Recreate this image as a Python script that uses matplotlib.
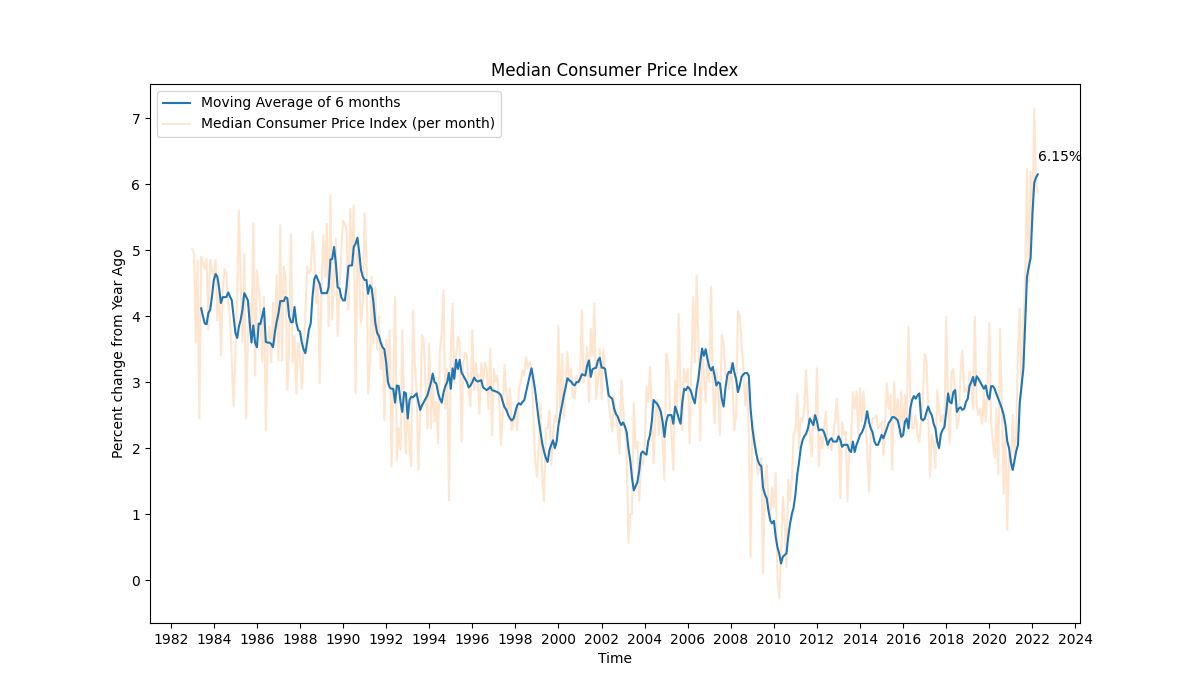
import matplotlib
matplotlib.use("Agg")
import matplotlib.pyplot as plt
import matplotlib.dates as mdates
import numpy as np
import pandas as pd

# Monthly median CPI (% change from year ago), Jan 1983 .. Apr 2022
cpi_monthly = [
    5.02, 4.95, 3.6, 4.85, 2.45, 4.9, 4.8, 4.72, 4.87, 3.8, 4.85, 4.7,      # 1983
    4.6, 4.85, 3.94, 4.5, 3.41, 4.4, 4.72, 4.65, 4.2, 4.0, 3.3, 2.63,       # 1984
    3.4, 4.3, 5.6, 4.5, 3.6, 4.95, 2.45, 3.7, 4.2, 3.7, 5.41, 3.1,          # 1985
    4.7, 4.4, 4.1, 3.3, 4.3, 2.27, 3.6, 3.85, 3.3, 4.2, 3.6, 4.62,          # 1986
    3.33, 5.38, 3.33, 4.75, 4.6, 2.88, 3.5, 5.25, 3.3, 3.7, 2.83, 3.6,      # 1987
    3.39, 2.9, 3.52, 4.0, 4.75, 4.65, 4.7, 5.28, 4.9, 4.2, 4.5, 2.98,       # 1988
    4.45, 5.23, 4.6, 5.4, 3.85, 5.83, 3.95, 4.6, 5.18, 3.7, 4.4, 5.0,       # 1989
    5.45, 5.4, 5.3, 4.1, 5.63, 4.9, 5.68, 2.83, 5.0, 4.6, 3.9, 4.2,         # 1990
    5.56, 4.9, 2.83, 3.3, 4.6, 3.59, 4.44, 3.5, 4.0, 3.2, 3.6, 2.42,        # 1991
    3.64, 2.99, 3.79, 1.72, 3.0, 4.29, 1.82, 2.3, 1.97, 3.79, 2.6, 1.92,    # 1992
    2.7, 2.0, 1.72, 4.09, 3.27, 2.86, 1.67, 2.55, 3.71, 3.64, 2.9, 2.3,     # 1993
    3.59, 2.3, 3.1, 2.4, 2.7, 2.07, 3.5, 3.74, 4.39, 2.6, 3.2, 1.21,        # 1994
    3.5, 4.19, 3.0, 3.4, 3.69, 3.6, 2.1, 3.3, 3.45, 3.4, 2.9, 2.63,         # 1995
    3.79, 2.88, 3.29, 3.07, 2.52, 3.29, 3.0, 3.3, 3.2, 2.6, 3.51, 2.2,      # 1996
    3.2, 3.0, 3.1, 2.7, 2.05, 2.6, 3.26, 2.8, 2.5, 2.9, 2.27, 2.4,          # 1997
    2.6, 2.27, 2.9, 3.0, 3.18, 3.1, 3.38, 3.2, 3.3, 3.2, 2.5, 1.82,         # 1998
    1.57, 2.0, 2.68, 1.56, 1.19, 2.3, 2.3, 2.57, 1.75, 2.2, 2.5, 2.4,       # 1999
    3.86, 2.4, 3.43, 2.45, 3.0, 3.46, 3.0, 3.2, 2.77, 2.75, 3.1, 3.0,       # 2000
    3.0, 4.09, 3.0, 3.2, 3.53, 2.7, 3.81, 3.4, 4.19, 2.74, 3.0, 3.5,        # 2001
    2.74, 3.5, 3.2, 3.0, 2.69, 2.48, 2.25, 2.8, 2.5, 2.3, 1.92, 3.03,       # 2002
    2.6, 2.3, 2.0, 0.56, 1.0, 1.0, 2.68, 2.0, 2.1, 1.21, 1.8, 1.75,         # 2003
    2.0, 2.93, 2.7, 3.23, 2.6, 1.77, 2.5, 2.73, 2.2, 2.6, 2.1, 1.52,        # 2004
    3.43, 3.33, 2.73, 2.2, 1.67, 3.03, 2.52, 4.04, 2.8, 2.27, 3.2, 3.0,     # 2005
    3.2, 2.07, 3.1, 4.29, 3.3, 4.62, 3.6, 2.12, 3.5, 3.1, 2.7, 3.4,         # 2006
    3.0, 4.45, 3.0, 2.38, 3.2, 2.9, 2.2, 3.71, 3.6, 3.1, 3.15, 2.9,         # 2007
    3.3, 2.9, 2.27, 2.5, 4.07, 4.0, 3.6, 3.2, 2.65, 3.0, 2.27, 0.35,        # 2008
    2.42, 2.2, 2.0, 1.6, 1.7, 1.85, 0.1, 1.5, 1.75, 1.2, 0.98, 1.4,         # 2009
    1.1, 1.62, 0.05, -0.28, 0.3, 1.26, 0.9, 0.2, 1.52, 1.2, 1.55, 2.2,      # 2010
    2.27, 2.83, 2.0, 2.45, 2.4, 2.6, 3.18, 2.55, 2.2, 1.87, 2.5, 2.3,       # 2011
    3.21, 1.72, 2.2, 2.0, 2.3, 2.55, 2.0, 2.1, 1.97, 2.2, 2.4, 2.75,        # 2012
    2.3, 1.24, 2.4, 2.2, 2.25, 1.19, 2.0, 2.1, 2.85, 2.6, 2.86, 2.2,        # 2013
    2.9, 2.4, 2.86, 2.4, 2.0, 1.34, 2.2, 2.45, 2.45, 2.5, 2.3, 2.35,        # 2014
    2.4, 1.9, 2.4, 2.98, 2.6, 2.8, 1.67, 3.0, 2.4, 2.75, 2.2, 2.85,         # 2015
    2.2, 2.8, 2.45, 3.84, 2.8, 2.3, 2.3, 2.5, 2.2, 2.1, 2.4, 2.8,           # 2016
    3.43, 3.3, 2.55, 1.57, 2.2, 2.1, 1.7, 2.88, 2.6, 2.4, 2.5, 2.3,         # 2017
    3.99, 2.6, 2.07, 3.15, 3.2, 2.8, 2.3, 2.45, 3.2, 3.48, 2.85, 2.9,       # 2018
    2.85, 3.16, 3.0, 2.58, 3.99, 2.65, 2.5, 2.6, 2.37, 2.85, 2.4, 2.9,      # 2019
    3.89, 2.4, 2.1, 1.85, 2.6, 1.6, 3.81, 2.6, 1.31, 2.2, 0.76, 1.9,        # 2020
    1.67, 2.5, 1.9, 2.2, 3.51, 4.12, 2.75, 3.9, 4.6, 6.24, 4.52, 6.19,      # 2021
    5.3, 7.15, 6.04, 5.88,                                                  # 2022
]

# 6-month moving average, Jun 1983 .. Apr 2022
ma_6m = [
    4.12, 4.0, 3.89, 3.88, 4.05, 4.1, 4.3,                                  # 1983 Jun-Dec
    4.55, 4.64, 4.6, 4.42, 4.2, 4.29, 4.29, 4.29, 4.36, 4.3, 4.24, 4.0,     # 1984
    3.75, 3.67, 3.84, 3.95, 4.1, 4.35, 4.3, 4.24, 3.9, 3.6, 3.86, 3.6,      # 1985
    3.53, 3.89, 3.88, 4.0, 4.12, 3.61, 3.6, 3.6, 3.58, 3.53, 3.75, 3.91,    # 1986
    4.04, 4.23, 4.23, 4.23, 4.29, 4.27, 4.0, 3.91, 3.91, 4.14, 3.9, 3.79,   # 1987
    3.77, 3.6, 3.5, 3.44, 3.61, 3.8, 3.89, 4.3, 4.57, 4.62, 4.55, 4.49,     # 1988
    4.35, 4.35, 4.35, 4.35, 4.44, 4.86, 4.87, 5.05, 4.8, 4.44, 4.42, 4.29,  # 1989
    4.24, 4.24, 4.45, 4.76, 4.77, 4.77, 5.05, 5.1, 5.19, 4.97, 4.7, 4.6,    # 1990
    4.55, 4.55, 4.34, 4.47, 4.42, 4.2, 3.9, 3.75, 3.7, 3.6, 3.53, 3.5,      # 1991
    3.3, 3.0, 2.92, 2.9, 2.9, 2.69, 2.95, 2.94, 2.7, 2.55, 2.85, 2.83,      # 1992
    2.45, 2.73, 2.78, 2.77, 2.8, 2.83, 2.7, 2.58, 2.65, 2.7, 2.75, 2.8,     # 1993
    2.9, 3.0, 3.13, 3.0, 2.98, 2.83, 2.75, 2.69, 2.85, 2.94, 3.0, 3.14,     # 1994
    2.9, 3.21, 3.05, 3.34, 3.2, 3.34, 3.15, 3.1, 3.05, 3.0, 2.92, 2.95,     # 1995
    3.0, 3.07, 3.03, 3.01, 3.02, 3.03, 2.92, 2.9, 2.88, 2.9, 2.93, 2.88,    # 1996
    2.87, 2.86, 2.85, 2.83, 2.8, 2.7, 2.62, 2.58, 2.5, 2.45, 2.42, 2.45,    # 1997
    2.55, 2.65, 2.68, 2.66, 2.7, 2.73, 2.85, 2.98, 3.1, 3.21, 3.05, 2.88,   # 1998
    2.65, 2.42, 2.25, 2.07, 1.95, 1.85, 1.79, 1.97, 2.05, 2.12, 2.0, 2.1,   # 1999
    2.35, 2.52, 2.65, 2.8, 2.92, 3.06, 3.03, 3.01, 2.97, 2.95, 3.0, 3.0,    # 2000
    3.05, 3.12, 3.11, 3.1, 3.25, 3.33, 3.08, 3.2, 3.21, 3.22, 3.33, 3.37,   # 2001
    3.22, 3.22, 3.2, 3.0, 2.8, 2.77, 2.75, 2.6, 2.52, 2.48, 2.4, 2.35,      # 2002
    2.39, 2.33, 2.25, 2.0, 1.82, 1.55, 1.36, 1.42, 1.49, 1.66, 1.92, 1.95,  # 2003
    1.92, 1.9, 2.1, 2.2, 2.4, 2.73, 2.7, 2.67, 2.62, 2.55, 2.4, 2.17,       # 2004
    2.4, 2.5, 2.5, 2.5, 2.37, 2.63, 2.55, 2.45, 2.37, 2.7, 2.9, 2.88,       # 2005
    2.93, 2.9, 2.85, 2.75, 2.68, 2.9, 3.06, 3.3, 3.51, 3.4, 3.5, 3.35,      # 2006
    3.23, 3.18, 3.23, 3.1, 2.95, 3.0, 2.98, 2.75, 2.63, 2.9, 3.1, 3.16,     # 2007
    3.14, 3.29, 3.15, 3.04, 2.85, 2.95, 3.08, 3.12, 3.14, 3.14, 3.1, 2.6,   # 2008
    2.3, 2.1, 1.95, 1.82, 1.75, 1.73, 1.4, 1.3, 1.24, 1.05, 0.9, 0.86,      # 2009
    0.9, 0.65, 0.5, 0.4, 0.25, 0.35, 0.38, 0.4, 0.66, 0.85, 1.0, 1.1,       # 2010
    1.3, 1.6, 1.77, 2.0, 2.12, 2.18, 2.22, 2.3, 2.45, 2.4, 2.35, 2.5,       # 2011
    2.4, 2.27, 2.28, 2.28, 2.24, 2.15, 2.05, 2.12, 2.15, 2.1, 2.1, 2.1,     # 2012
    2.18, 2.12, 2.02, 2.05, 2.05, 2.05, 1.97, 1.94, 2.1, 1.94, 2.05, 2.12,  # 2013
    2.2, 2.24, 2.3, 2.4, 2.56, 2.4, 2.3, 2.24, 2.1, 2.05, 2.05, 2.12,       # 2014
    2.2, 2.15, 2.22, 2.3, 2.38, 2.42, 2.47, 2.47, 2.45, 2.42, 2.3, 2.17,    # 2015
    2.2, 2.4, 2.45, 2.3, 2.6, 2.73, 2.79, 2.75, 2.8, 2.83, 2.45, 2.42,      # 2016
    2.45, 2.55, 2.63, 2.55, 2.5, 2.37, 2.3, 2.1, 2.0, 2.21, 2.28, 2.32,     # 2017
    2.55, 2.83, 2.7, 2.68, 2.85, 2.88, 2.55, 2.6, 2.62, 2.58, 2.6, 2.7,     # 2018
    2.75, 2.95, 3.0, 3.08, 2.95, 3.09, 3.05, 3.0, 2.95, 2.9, 2.95, 2.8,     # 2019
    2.74, 2.94, 2.94, 2.9, 2.82, 2.75, 2.68, 2.6, 2.5, 2.35, 2.1, 2.0,      # 2020
    1.79, 1.67, 1.8, 1.95, 2.05, 2.7, 2.95, 3.21, 3.9, 4.6, 4.75, 4.88,     # 2021
    5.55, 6.02, 6.1, 6.15,                                                  # 2022
]

start_date = "1983-01-01"
ma_window = 6

dates = pd.date_range(start_date, periods=len(cpi_monthly), freq="MS")
ma_dates = dates[ma_window - 1:]

fig, ax = plt.subplots(figsize=(12, 7), dpi=100)
ax.plot(ma_dates, ma_6m, color="C0", label="Moving Average of 6 months", zorder=3)
ax.plot(dates, cpi_monthly, color="C1", alpha=0.2,
        label="Median Consumer Price Index (per month)", zorder=2)

ax.annotate(f"{ma_6m[-1]:.2f}%", xy=(ma_dates[-1], ma_6m[-1]),
            xytext=(0, 10), textcoords="offset points")

ax.xaxis.set_major_locator(mdates.YearLocator(2))
ax.xaxis.set_major_formatter(mdates.DateFormatter("%Y"))

ax.set_title("Median Consumer Price Index")
ax.set_xlabel("Time")
ax.set_ylabel("Percent change from Year Ago")
ax.legend(loc="upper left")

fig.savefig("out.png", dpi=100)
